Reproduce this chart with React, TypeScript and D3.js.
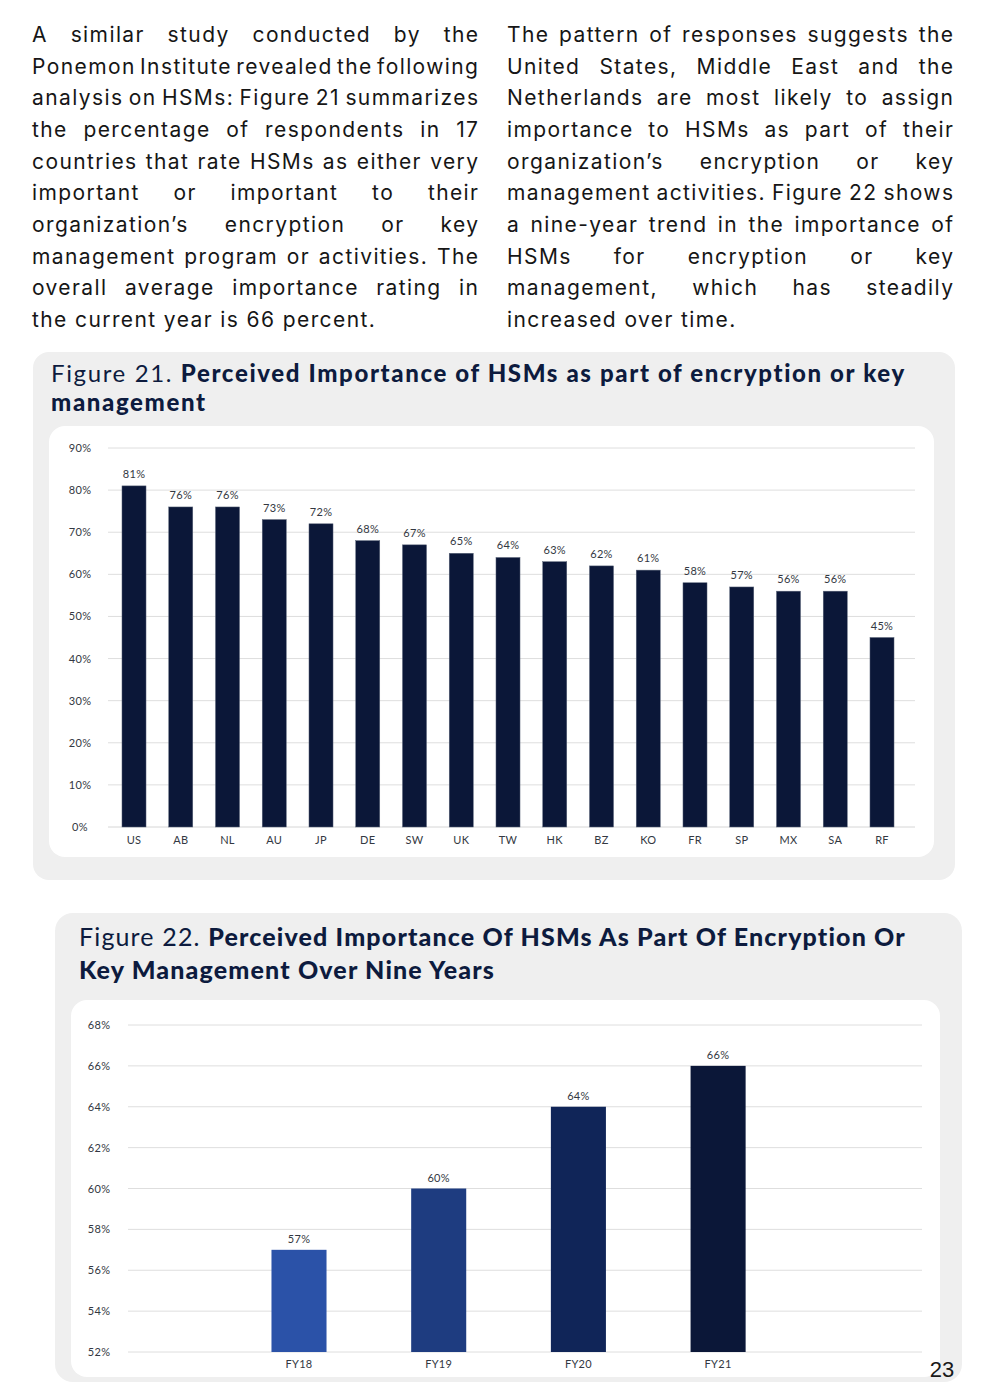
import React from 'react';
import * as d3 from 'd3';

// Figure 21 data
const countries = ['US', 'AB', 'NL', 'AU', 'JP', 'DE', 'SW', 'UK', 'TW', 'HK', 'BZ', 'KO', 'FR', 'SP', 'MX', 'SA', 'RF'];
const countryValues = [81, 76, 76, 73, 72, 68, 67, 65, 64, 63, 62, 61, 58, 57, 56, 56, 45];
const countryTicks = [0, 10, 20, 30, 40, 50, 60, 70, 80, 90];

// Figure 22 data
const years = ['FY18', 'FY19', 'FY20', 'FY21'];
const yearValues = [57, 60, 64, 66];
const yearTicks = [52, 54, 56, 58, 60, 62, 64, 66, 68];
const yearColors = ['#2b52a8', '#1e3c80', '#102558', '#0b1738'];

const leftLines = [
    'A similar study conducted by the',
    'Ponemon Institute revealed the following',
    'analysis on HSMs: Figure 21 summarizes',
    'the percentage of respondents in 17',
    'countries that rate HSMs as either very',
    'important or important to their',
    'organization\u2019s encryption or key',
    'management program or activities. The',
    'overall average importance rating in',
    'the current year is 66 percent.',
];
const rightLines = [
    'The pattern of responses suggests the',
    'United States, Middle East and the',
    'Netherlands are most likely to assign',
    'importance to HSMs as part of their',
    'organization\u2019s encryption or key',
    'management activities. Figure 22 shows',
    'a nine-year trend in the importance of',
    'HSMs for encryption or key',
    'management, which has steadily',
    'increased over time.',
];

const BODY_FONT = 'Inter';
const BODY_SIZE = 21;
const BODY_LS = 1.4;
const CHART_FONT = 'Lato';
const NAVY = '#0b1738';
const TITLE = '#0d1b3e';
const TXT = '#333842';

const ctx = document.createElement('canvas').getContext('2d')!;

const measure = (s: string, font: string) => {
    ctx.font = font;
    return ctx.measureText(s).width;
};

const Paragraph = ({ lines, x, width }: { lines: string[]; x: number; width: number }) => {
    const font = `400 ${BODY_SIZE}px ${BODY_FONT}`;
    const wordW = (w: string) => measure(w, font) + w.length * BODY_LS;
    const space = wordW(' ');
    return (
        <g fontFamily={BODY_FONT} fontSize={BODY_SIZE} fill="#161616" letterSpacing={BODY_LS}>
            {lines.map((line, li) => {
                const words = line.split(' ');
                const widths = words.map(wordW);
                const total = d3.sum(widths) - BODY_LS;
                const last = li === lines.length - 1;
                const gap = !last && words.length > 1 ? Math.max(3, (width - total) / (words.length - 1)) : space;
                let cx = x;
                const y = 42 + li * 31.65;
                return (
                    <text key={li} y={y}>
                        {words.map((w, i) => {
                            const px = cx;
                            cx += widths[i] + gap;
                            return <tspan key={i} x={px}>{w}</tspan>;
                        })}
                    </text>
                );
            })}
        </g>
    );
};

// two-line title: regular prefix + heavy text, spaced so the first line reaches the target right edge
const Title = ({ x, y, size, prefix, line1, line2, right, lineGap }: {
    x: number; y: number; size: number; prefix: string; line1: string; line2: string; right: number; lineGap: number;
}) => {
    const pre = measure(prefix, `400 ${size}px ${CHART_FONT}`);
    const b = measure(line1, `900 ${size}px ${CHART_FONT}`);
    const ls = (right - x - pre - b) / (prefix.length + line1.length - 1);
    return (
        <g fontFamily={CHART_FONT} fontSize={size} fill={TITLE} letterSpacing={ls}>
            <text x={x} y={y}>
                <tspan fontWeight={400}>{prefix}</tspan>
                <tspan fontWeight={900}>{line1}</tspan>
            </text>
            <text x={x} y={y + lineGap} fontWeight={900}>{line2}</text>
        </g>
    );
};

const Figure21 = () => {
    const x = d3.scaleBand<string>().domain(countries).range([110.3, 905.7]).paddingInner(0.486).paddingOuter(0.25);
    const y = d3.scaleLinear().domain([0, 90]).range([827, 448]);
    return (
        <g>
            <rect x={33} y={352} width={922} height={528} rx={16} fill="#efefef" />
            <Title x={51} y={382} size={24} prefix="Figure 21. " line1="Perceived Importance of HSMs as part of encryption or key"
                line2="management" right={906} lineGap={29} />
            <rect x={49} y={426} width={885} height={431} rx={16} fill="#ffffff" />
            <g fontFamily={CHART_FONT} fontSize={11} fill={TXT} letterSpacing={0.3}>
                {countryTicks.map(t => (
                    <g key={t}>
                        <line x1={108} x2={915} y1={y(t)} y2={y(t)} stroke={t === 0 ? '#d6d6d6' : '#dedede'} strokeWidth={1} />
                        <text x={80} y={y(t) + 4} textAnchor="middle">{t}%</text>
                    </g>
                ))}
                {countries.map((c, i) => (
                    <g key={c}>
                        <rect x={x(c)} y={y(countryValues[i])} width={x.bandwidth()} height={y(0) - y(countryValues[i])}
                            fill={NAVY} stroke="#5a6478" strokeWidth={0.5} />
                        <text x={x(c)! + x.bandwidth() / 2} y={y(countryValues[i]) - 8} textAnchor="middle">{countryValues[i]}%</text>
                        <text x={x(c)! + x.bandwidth() / 2} y={844} textAnchor="middle">{c}</text>
                    </g>
                ))}
            </g>
        </g>
    );
};

const Figure22 = () => {
    const x = d3.scaleBand<string>().domain(years).range([229.15, 787.95]).paddingInner(0.606).paddingOuter(0.303);
    const y = d3.scaleLinear().domain([52, 68]).range([1352, 1025]);
    return (
        <g>
            <rect x={55} y={913} width={907} height={469} rx={18} fill="#efefef" />
            <Title x={79} y={946} size={25} prefix="Figure 22. " line1="Perceived Importance Of HSMs As Part Of Encryption Or"
                line2="Key Management Over Nine Years" right={907} lineGap={33} />
            <rect x={71} y={1000} width={869} height={377} rx={16} fill="#ffffff" />
            <g fontFamily={CHART_FONT} fontSize={11} fill={TXT} letterSpacing={0.3}>
                {yearTicks.map(t => (
                    <g key={t}>
                        <line x1={128} x2={922} y1={y(t)} y2={y(t)} stroke="#dedede" strokeWidth={1} />
                        <text x={99} y={y(t) + 4} textAnchor="middle">{t}%</text>
                    </g>
                ))}
                {years.map((c, i) => (
                    <g key={c}>
                        <rect x={x(c)} y={y(yearValues[i])} width={x.bandwidth()} height={y(52) - y(yearValues[i])}
                            fill={yearColors[i]} />
                        <text x={x(c)! + x.bandwidth() / 2} y={y(yearValues[i]) - 7} textAnchor="middle">{yearValues[i]}%</text>
                        <text x={x(c)! + x.bandwidth() / 2} y={1368} textAnchor="middle">{c}</text>
                    </g>
                ))}
            </g>
            <text x={942} y={1377} textAnchor="middle" fontFamily="Liberation Sans" fontSize={22} fill="#1a1a1a">23</text>
        </g>
    );
};

export default function App() {
    return (
        <svg width={988} height={1398} style={{ position: 'absolute', left: 0, top: 0, background: '#ffffff' }}>
            <rect width={988} height={1398} fill="#ffffff" />
            <Paragraph lines={leftLines} x={32} width={446} />
            <Paragraph lines={rightLines} x={507} width={446} />
            <Figure21 />
            <Figure22 />
        </svg>
    );
}
